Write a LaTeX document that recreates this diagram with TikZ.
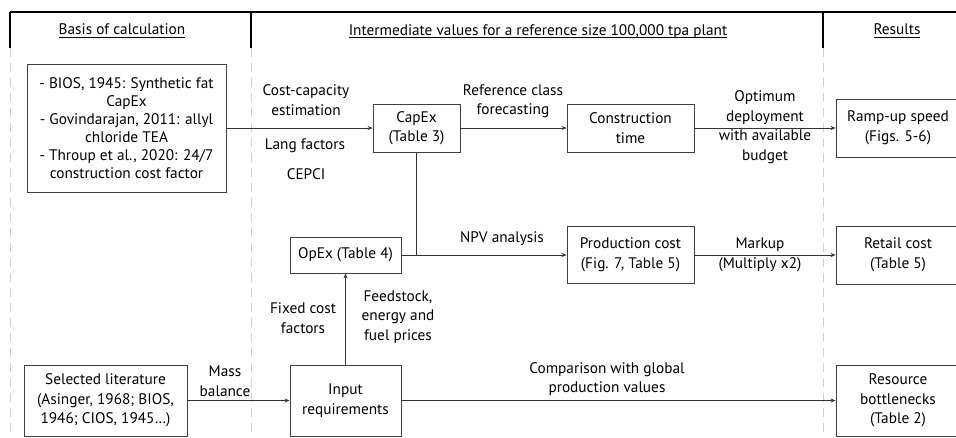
\documentclass[tikz,border=0pt]{standalone}
\usepackage{amsmath}
\usepackage{fontspec}
\setmainfont{PT Sans}
\usetikzlibrary{positioning,arrows.meta}
\newcommand{\colhead}[1]{\underline{\smash[b]{#1}}}

\begin{document}
\begin{tikzpicture}[x=1pt, y=-1pt, >={Stealth[length=5pt,width=4pt]},
box/.style={draw=black!75, line width=0.8pt, align=center, inner sep=0pt},
lbl/.style={align=center, inner sep=0pt},
sep/.style={draw=black!18, line width=1pt, dash pattern=on 9pt off 6pt},
link/.style={draw=black!80, line width=0.7pt}]
\tikzstyle{every node}=[font=\fontsize{15.3}{19.5}\selectfont]
\useasboundingbox (0,0) rectangle (956,438);

% column heads
\draw[line width=1.2pt] (10,12) -- (956,12);
\draw[line width=1.2pt] (10,12) -- (10,48);
\draw[line width=1.2pt] (251,12) -- (251,48);
\draw[line width=1.2pt] (823,12) -- (823,48);
\draw[sep] (10,48) -- (10,438);
\draw[sep] (251,48) -- (251,438);
\draw[sep] (823,48) -- (823,438);
\node[lbl] (h1) at (122,31) {\colhead{Basis of calculation}};
\node[lbl] (h2) at (538,31) {\colhead{Intermediate values for a reference size 100,000 tpa plant}};
\node[lbl] (h3) at (897,31) {\colhead{Results}};

% boxes
\node[box, minimum width=199, minimum height=128, font=\fontsize{15.3}{18}\selectfont] (basis) at (126.5,128) {- BIOS, 1945: Synthetic fat\\CapEx\\- Govindarajan, 2011: allyl\\chloride TEA\\- Throup et al., 2020: 24/7\\construction cost factor};
\node[box, minimum width=87, minimum height=48] (capex) at (416.5,128) {CapEx\\(Table 3)};
\node[box, minimum width=127, minimum height=48] (constr) at (630.5,128) {Construction\\time};
\node[box, minimum width=124, minimum height=58] (ramp) at (898,128) {Ramp-up speed\\(Figs. 5-6)};
\node[box, minimum width=111, minimum height=36] (opex) at (345.5,255) {OpEx (Table 4)};
\node[box, minimum width=127, minimum height=57] (prod) at (630.5,255) {Production cost\\(Fig. 7, Table 5)};
\node[box, minimum width=124, minimum height=58] (retail) at (898,255) {Retail cost\\(Table 5)};
\node[box, minimum width=163, minimum height=71] (lit) at (105.5,400.5) {Selected literature\\(Asinger, 1968; BIOS,\\1946; CIOS, 1945…)};
\node[box, minimum width=111, minimum height=71] (input) at (345.5,400.5) {Input\\requirements};
\node[box, minimum width=124, minimum height=71] (res) at (898,400.5) {Resource\\bottlenecks\\(Table 2)};

% connectors
\coordinate (jn) at (capex.south |- opex.east);
\draw[link,->] (basis) -- (capex);
\draw[link,->] (capex) -- (constr);
\draw[link,->] (constr) -- (ramp);
\draw[link] (capex) -- (jn);
\draw[link,->] (opex) -- (prod);
\draw[link,->] (prod) -- (retail);
\draw[link,->] (lit) -- (input);
\draw[link,->] (input) -- (res);
\draw[link,->] (input) -- (opex);

% labels
\node[lbl] (l1) at (306,100) {Cost-capacity\\estimation};
\node[lbl] (l2) at (305,146) {Lang factors};
\node[lbl] (l3) at (306,174) {CEPCI};
\node[lbl] (l4) at (513,101) {Reference class\\forecasting};
\node[lbl] (l5) at (765,127) {Optimum\\deployment\\with available\\budget};
\node[lbl] (l6) at (502,239) {NPV analysis};
\node[lbl] (l7) at (760,255) {Markup\\(Multiply x2)};
\node[lbl] (l8) at (225,381) {Mass\\balance};
\node[lbl] (l9) at (607,379) {Comparison with global\\production values};
\node[lbl] (l10) at (303,318) {Fixed cost\\factors};
\node[lbl] (l11) at (398,317) {Feedstock,\\energy and\\fuel prices};
\end{tikzpicture}
\end{document}
